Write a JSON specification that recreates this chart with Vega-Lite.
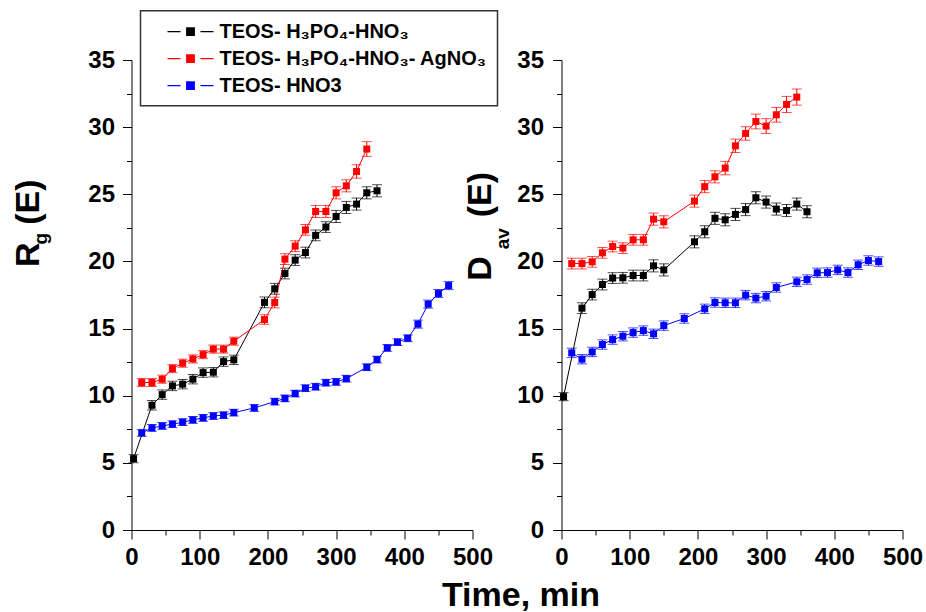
{
 "$schema": "https://vega.github.io/schema/vega-lite/v6.json",
 "background": "white",
 "padding": {"left": 10.5, "top": 9, "right": 0, "bottom": 0},
 "config": {
  "view": {"stroke": null},
  "font": "Liberation Sans",
  "axis": {"domainColor": "#000", "tickColor": "#000", "labelColor": "#000", "labelFont": "Liberation Sans", "labelFontWeight": "bold", "labelFontSize": 24, "titleFont": "Liberation Sans", "titleFontWeight": "bold", "titleColor": "#000", "grid": false, "labelFlush": false, "labelOverlap": false, "tickSize": 9, "domainWidth": 1, "tickWidth": 1}
 },
 "data": {"values": [
  {"p":"R","s":"TEOS- H₃PO₄-HNO₃","t":3,"v":5.31,"e":0.3},
  {"p":"R","s":"TEOS- H₃PO₄-HNO₃","t":30,"v":9.29,"e":0.35},
  {"p":"R","s":"TEOS- H₃PO₄-HNO₃","t":45,"v":10.08,"e":0.35},
  {"p":"R","s":"TEOS- H₃PO₄-HNO₃","t":60,"v":10.73,"e":0.35},
  {"p":"R","s":"TEOS- H₃PO₄-HNO₃","t":75,"v":10.86,"e":0.35},
  {"p":"R","s":"TEOS- H₃PO₄-HNO₃","t":90,"v":11.23,"e":0.35},
  {"p":"R","s":"TEOS- H₃PO₄-HNO₃","t":105,"v":11.72,"e":0.35},
  {"p":"R","s":"TEOS- H₃PO₄-HNO₃","t":120,"v":11.75,"e":0.35},
  {"p":"R","s":"TEOS- H₃PO₄-HNO₃","t":135,"v":12.54,"e":0.35},
  {"p":"R","s":"TEOS- H₃PO₄-HNO₃","t":150,"v":12.67,"e":0.35},
  {"p":"R","s":"TEOS- H₃PO₄-HNO₃","t":195,"v":16.95,"e":0.4},
  {"p":"R","s":"TEOS- H₃PO₄-HNO₃","t":210,"v":17.96,"e":0.4},
  {"p":"R","s":"TEOS- H₃PO₄-HNO₃","t":225,"v":19.1,"e":0.4},
  {"p":"R","s":"TEOS- H₃PO₄-HNO₃","t":240,"v":20.1,"e":0.4},
  {"p":"R","s":"TEOS- H₃PO₄-HNO₃","t":255,"v":20.66,"e":0.4},
  {"p":"R","s":"TEOS- H₃PO₄-HNO₃","t":270,"v":21.94,"e":0.4},
  {"p":"R","s":"TEOS- H₃PO₄-HNO₃","t":285,"v":22.56,"e":0.4},
  {"p":"R","s":"TEOS- H₃PO₄-HNO₃","t":300,"v":23.35,"e":0.45},
  {"p":"R","s":"TEOS- H₃PO₄-HNO₃","t":315,"v":24.02,"e":0.45},
  {"p":"R","s":"TEOS- H₃PO₄-HNO₃","t":330,"v":24.27,"e":0.45},
  {"p":"R","s":"TEOS- H₃PO₄-HNO₃","t":345,"v":25.11,"e":0.45},
  {"p":"R","s":"TEOS- H₃PO₄-HNO₃","t":360,"v":25.26,"e":0.45},
  {"p":"R","s":"TEOS- H₃PO₄-HNO₃- AgNO₃","t":15,"v":10.98,"e":0.3},
  {"p":"R","s":"TEOS- H₃PO₄-HNO₃- AgNO₃","t":30,"v":10.98,"e":0.3},
  {"p":"R","s":"TEOS- H₃PO₄-HNO₃- AgNO₃","t":45,"v":11.23,"e":0.3},
  {"p":"R","s":"TEOS- H₃PO₄-HNO₃- AgNO₃","t":60,"v":12.02,"e":0.3},
  {"p":"R","s":"TEOS- H₃PO₄-HNO₃- AgNO₃","t":75,"v":12.42,"e":0.3},
  {"p":"R","s":"TEOS- H₃PO₄-HNO₃- AgNO₃","t":90,"v":12.74,"e":0.3},
  {"p":"R","s":"TEOS- H₃PO₄-HNO₃- AgNO₃","t":105,"v":13.06,"e":0.3},
  {"p":"R","s":"TEOS- H₃PO₄-HNO₃- AgNO₃","t":120,"v":13.47,"e":0.3},
  {"p":"R","s":"TEOS- H₃PO₄-HNO₃- AgNO₃","t":135,"v":13.47,"e":0.3},
  {"p":"R","s":"TEOS- H₃PO₄-HNO₃- AgNO₃","t":150,"v":14.06,"e":0.3},
  {"p":"R","s":"TEOS- H₃PO₄-HNO₃- AgNO₃","t":195,"v":15.67,"e":0.35},
  {"p":"R","s":"TEOS- H₃PO₄-HNO₃- AgNO₃","t":210,"v":16.94,"e":0.4},
  {"p":"R","s":"TEOS- H₃PO₄-HNO₃- AgNO₃","t":225,"v":20.17,"e":0.4},
  {"p":"R","s":"TEOS- H₃PO₄-HNO₃- AgNO₃","t":240,"v":21.14,"e":0.4},
  {"p":"R","s":"TEOS- H₃PO₄-HNO₃- AgNO₃","t":255,"v":22.35,"e":0.4},
  {"p":"R","s":"TEOS- H₃PO₄-HNO₃- AgNO₃","t":270,"v":23.72,"e":0.45},
  {"p":"R","s":"TEOS- H₃PO₄-HNO₃- AgNO₃","t":285,"v":23.72,"e":0.45},
  {"p":"R","s":"TEOS- H₃PO₄-HNO₃- AgNO₃","t":300,"v":25.11,"e":0.45},
  {"p":"R","s":"TEOS- H₃PO₄-HNO₃- AgNO₃","t":315,"v":25.63,"e":0.45},
  {"p":"R","s":"TEOS- H₃PO₄-HNO₃- AgNO₃","t":330,"v":26.7,"e":0.5},
  {"p":"R","s":"TEOS- H₃PO₄-HNO₃- AgNO₃","t":345,"v":28.37,"e":0.55},
  {"p":"R","s":"TEOS- HNO3","t":15,"v":7.23,"e":0.25},
  {"p":"R","s":"TEOS- HNO3","t":30,"v":7.6,"e":0.25},
  {"p":"R","s":"TEOS- HNO3","t":45,"v":7.75,"e":0.25},
  {"p":"R","s":"TEOS- HNO3","t":60,"v":7.88,"e":0.25},
  {"p":"R","s":"TEOS- HNO3","t":75,"v":8.03,"e":0.25},
  {"p":"R","s":"TEOS- HNO3","t":90,"v":8.2,"e":0.25},
  {"p":"R","s":"TEOS- HNO3","t":105,"v":8.35,"e":0.25},
  {"p":"R","s":"TEOS- HNO3","t":120,"v":8.49,"e":0.25},
  {"p":"R","s":"TEOS- HNO3","t":135,"v":8.55,"e":0.25},
  {"p":"R","s":"TEOS- HNO3","t":150,"v":8.74,"e":0.25},
  {"p":"R","s":"TEOS- HNO3","t":180,"v":9.09,"e":0.25},
  {"p":"R","s":"TEOS- HNO3","t":210,"v":9.56,"e":0.25},
  {"p":"R","s":"TEOS- HNO3","t":225,"v":9.8,"e":0.25},
  {"p":"R","s":"TEOS- HNO3","t":240,"v":10.16,"e":0.25},
  {"p":"R","s":"TEOS- HNO3","t":255,"v":10.56,"e":0.25},
  {"p":"R","s":"TEOS- HNO3","t":270,"v":10.67,"e":0.25},
  {"p":"R","s":"TEOS- HNO3","t":285,"v":10.97,"e":0.25},
  {"p":"R","s":"TEOS- HNO3","t":300,"v":11.03,"e":0.25},
  {"p":"R","s":"TEOS- HNO3","t":315,"v":11.27,"e":0.25},
  {"p":"R","s":"TEOS- HNO3","t":345,"v":12.12,"e":0.25},
  {"p":"R","s":"TEOS- HNO3","t":360,"v":12.69,"e":0.25},
  {"p":"R","s":"TEOS- HNO3","t":375,"v":13.56,"e":0.25},
  {"p":"R","s":"TEOS- HNO3","t":390,"v":13.99,"e":0.25},
  {"p":"R","s":"TEOS- HNO3","t":405,"v":14.28,"e":0.25},
  {"p":"R","s":"TEOS- HNO3","t":420,"v":15.33,"e":0.3},
  {"p":"R","s":"TEOS- HNO3","t":435,"v":16.82,"e":0.3},
  {"p":"R","s":"TEOS- HNO3","t":450,"v":17.61,"e":0.3},
  {"p":"R","s":"TEOS- HNO3","t":465,"v":18.2,"e":0.3},
  {"p":"D","s":"TEOS- H₃PO₄-HNO₃","t":3,"v":9.93,"e":0.3},
  {"p":"D","s":"TEOS- H₃PO₄-HNO₃","t":30,"v":16.52,"e":0.4},
  {"p":"D","s":"TEOS- H₃PO₄-HNO₃","t":45,"v":17.53,"e":0.4},
  {"p":"D","s":"TEOS- H₃PO₄-HNO₃","t":60,"v":18.28,"e":0.4},
  {"p":"D","s":"TEOS- H₃PO₄-HNO₃","t":75,"v":18.76,"e":0.4},
  {"p":"D","s":"TEOS- H₃PO₄-HNO₃","t":90,"v":18.78,"e":0.4},
  {"p":"D","s":"TEOS- H₃PO₄-HNO₃","t":105,"v":18.95,"e":0.4},
  {"p":"D","s":"TEOS- H₃PO₄-HNO₃","t":120,"v":18.95,"e":0.4},
  {"p":"D","s":"TEOS- H₃PO₄-HNO₃","t":135,"v":19.67,"e":0.45},
  {"p":"D","s":"TEOS- H₃PO₄-HNO₃","t":150,"v":19.37,"e":0.45},
  {"p":"D","s":"TEOS- H₃PO₄-HNO₃","t":195,"v":21.46,"e":0.45},
  {"p":"D","s":"TEOS- H₃PO₄-HNO₃","t":210,"v":22.21,"e":0.45},
  {"p":"D","s":"TEOS- H₃PO₄-HNO₃","t":225,"v":23.21,"e":0.45},
  {"p":"D","s":"TEOS- H₃PO₄-HNO₃","t":240,"v":23.1,"e":0.45},
  {"p":"D","s":"TEOS- H₃PO₄-HNO₃","t":255,"v":23.5,"e":0.45},
  {"p":"D","s":"TEOS- H₃PO₄-HNO₃","t":270,"v":23.86,"e":0.45},
  {"p":"D","s":"TEOS- H₃PO₄-HNO₃","t":285,"v":24.74,"e":0.45},
  {"p":"D","s":"TEOS- H₃PO₄-HNO₃","t":300,"v":24.42,"e":0.45},
  {"p":"D","s":"TEOS- H₃PO₄-HNO₃","t":315,"v":23.9,"e":0.45},
  {"p":"D","s":"TEOS- H₃PO₄-HNO₃","t":330,"v":23.79,"e":0.45},
  {"p":"D","s":"TEOS- H₃PO₄-HNO₃","t":345,"v":24.27,"e":0.45},
  {"p":"D","s":"TEOS- H₃PO₄-HNO₃","t":360,"v":23.7,"e":0.45},
  {"p":"D","s":"TEOS- H₃PO₄-HNO₃- AgNO₃","t":15,"v":19.84,"e":0.4},
  {"p":"D","s":"TEOS- H₃PO₄-HNO₃- AgNO₃","t":30,"v":19.84,"e":0.4},
  {"p":"D","s":"TEOS- H₃PO₄-HNO₃- AgNO₃","t":45,"v":19.97,"e":0.4},
  {"p":"D","s":"TEOS- H₃PO₄-HNO₃- AgNO₃","t":60,"v":20.64,"e":0.4},
  {"p":"D","s":"TEOS- H₃PO₄-HNO₃- AgNO₃","t":75,"v":21.11,"e":0.4},
  {"p":"D","s":"TEOS- H₃PO₄-HNO₃- AgNO₃","t":90,"v":20.99,"e":0.4},
  {"p":"D","s":"TEOS- H₃PO₄-HNO₃- AgNO₃","t":105,"v":21.61,"e":0.4},
  {"p":"D","s":"TEOS- H₃PO₄-HNO₃- AgNO₃","t":120,"v":21.61,"e":0.4},
  {"p":"D","s":"TEOS- H₃PO₄-HNO₃- AgNO₃","t":135,"v":23.15,"e":0.45},
  {"p":"D","s":"TEOS- H₃PO₄-HNO₃- AgNO₃","t":150,"v":22.95,"e":0.45},
  {"p":"D","s":"TEOS- H₃PO₄-HNO₃- AgNO₃","t":195,"v":24.49,"e":0.45},
  {"p":"D","s":"TEOS- H₃PO₄-HNO₃- AgNO₃","t":210,"v":25.57,"e":0.45},
  {"p":"D","s":"TEOS- H₃PO₄-HNO₃- AgNO₃","t":225,"v":26.3,"e":0.45},
  {"p":"D","s":"TEOS- H₃PO₄-HNO₃- AgNO₃","t":240,"v":26.95,"e":0.5},
  {"p":"D","s":"TEOS- H₃PO₄-HNO₃- AgNO₃","t":255,"v":28.61,"e":0.5},
  {"p":"D","s":"TEOS- H₃PO₄-HNO₃- AgNO₃","t":270,"v":29.53,"e":0.5},
  {"p":"D","s":"TEOS- H₃PO₄-HNO₃- AgNO₃","t":285,"v":30.42,"e":0.55},
  {"p":"D","s":"TEOS- H₃PO₄-HNO₃- AgNO₃","t":300,"v":30.08,"e":0.55},
  {"p":"D","s":"TEOS- H₃PO₄-HNO₃- AgNO₃","t":315,"v":30.92,"e":0.55},
  {"p":"D","s":"TEOS- H₃PO₄-HNO₃- AgNO₃","t":330,"v":31.69,"e":0.6},
  {"p":"D","s":"TEOS- H₃PO₄-HNO₃- AgNO₃","t":345,"v":32.24,"e":0.6},
  {"p":"D","s":"TEOS- HNO3","t":15,"v":13.19,"e":0.35},
  {"p":"D","s":"TEOS- HNO3","t":30,"v":12.72,"e":0.35},
  {"p":"D","s":"TEOS- HNO3","t":45,"v":13.26,"e":0.35},
  {"p":"D","s":"TEOS- HNO3","t":60,"v":13.81,"e":0.35},
  {"p":"D","s":"TEOS- HNO3","t":75,"v":14.18,"e":0.35},
  {"p":"D","s":"TEOS- HNO3","t":90,"v":14.43,"e":0.35},
  {"p":"D","s":"TEOS- HNO3","t":105,"v":14.7,"e":0.35},
  {"p":"D","s":"TEOS- HNO3","t":120,"v":14.85,"e":0.35},
  {"p":"D","s":"TEOS- HNO3","t":135,"v":14.61,"e":0.35},
  {"p":"D","s":"TEOS- HNO3","t":150,"v":15.22,"e":0.35},
  {"p":"D","s":"TEOS- HNO3","t":180,"v":15.75,"e":0.35},
  {"p":"D","s":"TEOS- HNO3","t":210,"v":16.47,"e":0.35},
  {"p":"D","s":"TEOS- HNO3","t":225,"v":16.94,"e":0.35},
  {"p":"D","s":"TEOS- HNO3","t":240,"v":16.92,"e":0.35},
  {"p":"D","s":"TEOS- HNO3","t":255,"v":16.92,"e":0.35},
  {"p":"D","s":"TEOS- HNO3","t":270,"v":17.49,"e":0.35},
  {"p":"D","s":"TEOS- HNO3","t":285,"v":17.27,"e":0.35},
  {"p":"D","s":"TEOS- HNO3","t":300,"v":17.41,"e":0.35},
  {"p":"D","s":"TEOS- HNO3","t":315,"v":18.06,"e":0.35},
  {"p":"D","s":"TEOS- HNO3","t":345,"v":18.48,"e":0.35},
  {"p":"D","s":"TEOS- HNO3","t":360,"v":18.65,"e":0.35},
  {"p":"D","s":"TEOS- HNO3","t":375,"v":19.15,"e":0.35},
  {"p":"D","s":"TEOS- HNO3","t":390,"v":19.17,"e":0.35},
  {"p":"D","s":"TEOS- HNO3","t":405,"v":19.37,"e":0.35},
  {"p":"D","s":"TEOS- HNO3","t":420,"v":19.17,"e":0.35},
  {"p":"D","s":"TEOS- HNO3","t":435,"v":19.75,"e":0.35},
  {"p":"D","s":"TEOS- HNO3","t":450,"v":20.07,"e":0.35},
  {"p":"D","s":"TEOS- HNO3","t":465,"v":19.99,"e":0.35}
 ]},
 "bounds": "flush",
 "spacing": 89,
 "resolve": {"scale": {"color": "independent"}, "legend": {"color": "independent"}},
 "hconcat": [
  {
   "width": 341, "height": 470,
   "transform": [{"filter": "datum.p == 'R'"}],
   "resolve": {"scale": {"x": "independent", "y": "independent"}},
   "layer": [
    {
     "mark": {"type": "errorbar", "ticks": true, "size": 10, "thickness": 1},
     "encoding": {
      "x": {"field": "t", "type": "quantitative", "scale": {"domain": [0, 500], "nice": false}, "axis": {"values": [0, 100, 200, 300, 400, 500], "labelPadding": 6, "title": "Time, min", "titleFontSize": 34, "titleX": 389, "titleY": 75.5, "titleBaseline": "alphabetic", "titleAlign": "center", "titleAngle": 0}},
      "y": {"field": "v", "type": "quantitative", "scale": {"domain": [0, 35], "nice": false}, "axis": {"values": [0, 5, 10, 15, 20, 25, 30, 35], "labelPadding": 8, "title": "(E)", "titleFontSize": 34, "titleX": -93.5, "titleY": 141.7, "titleBaseline": "alphabetic", "titleAlign": "center", "titleAngle": 270}},
      "yError": {"field": "e"},
      "color": {"field": "s", "type": "nominal", "scale": {"domain": ["TEOS- H₃PO₄-HNO₃", "TEOS- H₃PO₄-HNO₃- AgNO₃", "TEOS- HNO3"], "range": ["#000000", "#ff0000", "#0000ff"]}}
     }
    },
    {
     "mark": {"type": "line", "strokeWidth": 1},
     "encoding": {
      "x": {"field": "t", "type": "quantitative", "scale": {"domain": [0, 500], "nice": false}, "axis": {"orient": "bottom", "values": [50, 150, 250, 350, 450], "tickSize": 5, "labels": false, "domain": false, "title": null}},
      "y": {"field": "v", "type": "quantitative", "scale": {"domain": [0, 35], "nice": false}, "axis": {"orient": "left", "values": [2.5, 7.5, 12.5, 17.5, 22.5, 27.5, 32.5], "tickSize": 5, "labels": false, "domain": false, "title": "g", "titleFontSize": 19, "titleX": -85.2, "titleY": 178.2, "titleBaseline": "alphabetic", "titleAlign": "center", "titleAngle": 270}},
      "color": {"field": "s", "type": "nominal", "scale": {"domain": ["TEOS- H₃PO₄-HNO₃", "TEOS- H₃PO₄-HNO₃- AgNO₃", "TEOS- HNO3"], "range": ["#000000", "#ff0000", "#0000ff"]},
       "legend": {"orient": "none", "legendX": 9, "legendY": -49.3, "title": null, "symbolType": "M-2.3,0H-1M1,0H2.3M-0.38,-0.38H0.38V0.38H-0.38Z", "symbolSize": 400, "symbolStrokeWidth": 1.2, "symbolOffset": 29, "labelOffset": 18, "padding": 10, "rowPadding": 6, "strokeColor": "#333333", "fillColor": "#ffffff", "labelFont": "Liberation Sans", "labelFontWeight": "bold", "labelFontSize": 20, "labelColor": "#000000", "labelLimit": 0,
        "encode": {"symbols": {"update": {"fill": {"signal": "datum.index === 0 ? '#000000' : datum.index === 1 ? '#ff0000' : '#0000ff'"}, "stroke": {"signal": "datum.index === 0 ? '#000000' : datum.index === 1 ? '#ff0000' : '#0000ff'"}, "opacity": {"value": 1}}}, "legend": {"update": {"strokeWidth": {"value": 1.5}}}}}}
     }
    },
    {
     "mark": {"type": "point", "shape": "square", "filled": true, "size": 49, "opacity": 1},
     "encoding": {
      "x": {"field": "t", "type": "quantitative", "scale": {"domain": [0, 500], "nice": false}, "axis": null},
      "y": {"field": "v", "type": "quantitative", "scale": {"domain": [0, 35], "nice": false}, "axis": {"orient": "left", "labels": false, "ticks": false, "domain": false, "title": "R", "titleFontSize": 34, "titleX": -93.5, "titleY": 194.2, "titleBaseline": "alphabetic", "titleAlign": "center", "titleAngle": 270}},
      "color": {"field": "s", "type": "nominal", "scale": {"domain": ["TEOS- H₃PO₄-HNO₃", "TEOS- H₃PO₄-HNO₃- AgNO₃", "TEOS- HNO3"], "range": ["#000000", "#ff0000", "#0000ff"]}}
     }
    }
   ]
  },
  {
   "width": 341, "height": 470,
   "transform": [{"filter": "datum.p == 'D'"}],
   "resolve": {"scale": {"x": "independent", "y": "independent"}},
   "layer": [
    {
     "mark": {"type": "errorbar", "ticks": true, "size": 10, "thickness": 1},
     "encoding": {
      "x": {"field": "t", "type": "quantitative", "scale": {"domain": [0, 500], "nice": false}, "axis": {"values": [0, 100, 200, 300, 400, 500], "labelPadding": 6, "title": null}},
      "y": {"field": "v", "type": "quantitative", "scale": {"domain": [0, 35], "nice": false}, "axis": {"values": [0, 5, 10, 15, 20, 25, 30, 35], "labelPadding": 9, "title": "(E)", "titleFontSize": 34, "titleX": -71.3, "titleY": 134.2, "titleBaseline": "alphabetic", "titleAlign": "center", "titleAngle": 270}},
      "yError": {"field": "e"},
      "color": {"field": "s", "type": "nominal", "scale": {"domain": ["TEOS- H₃PO₄-HNO₃", "TEOS- H₃PO₄-HNO₃- AgNO₃", "TEOS- HNO3"], "range": ["#000000", "#ff0000", "#0000ff"]}, "legend": null}
     }
    },
    {
     "mark": {"type": "line", "strokeWidth": 1},
     "encoding": {
      "x": {"field": "t", "type": "quantitative", "scale": {"domain": [0, 500], "nice": false}, "axis": {"orient": "bottom", "values": [50, 150, 250, 350, 450], "tickSize": 5, "labels": false, "domain": false, "title": null}},
      "y": {"field": "v", "type": "quantitative", "scale": {"domain": [0, 35], "nice": false}, "axis": {"orient": "left", "values": [2.5, 7.5, 12.5, 17.5, 22.5, 27.5, 32.5], "tickSize": 5, "labels": false, "domain": false, "title": "av", "titleFontSize": 19, "titleX": -53.3, "titleY": 178.2, "titleBaseline": "alphabetic", "titleAlign": "center", "titleAngle": 270}},
      "color": {"field": "s", "type": "nominal", "scale": {"domain": ["TEOS- H₃PO₄-HNO₃", "TEOS- H₃PO₄-HNO₃- AgNO₃", "TEOS- HNO3"], "range": ["#000000", "#ff0000", "#0000ff"]}, "legend": null}
     }
    },
    {
     "mark": {"type": "point", "shape": "square", "filled": true, "size": 49, "opacity": 1},
     "encoding": {
      "x": {"field": "t", "type": "quantitative", "scale": {"domain": [0, 500], "nice": false}, "axis": null},
      "y": {"field": "v", "type": "quantitative", "scale": {"domain": [0, 35], "nice": false}, "axis": {"orient": "left", "labels": false, "ticks": false, "domain": false, "title": "D", "titleFontSize": 34, "titleX": -71.3, "titleY": 208, "titleBaseline": "alphabetic", "titleAlign": "center", "titleAngle": 270}},
      "color": {"field": "s", "type": "nominal", "scale": {"domain": ["TEOS- H₃PO₄-HNO₃", "TEOS- H₃PO₄-HNO₃- AgNO₃", "TEOS- HNO3"], "range": ["#000000", "#ff0000", "#0000ff"]}, "legend": null}
     }
    }
   ]
  }
 ]
}
